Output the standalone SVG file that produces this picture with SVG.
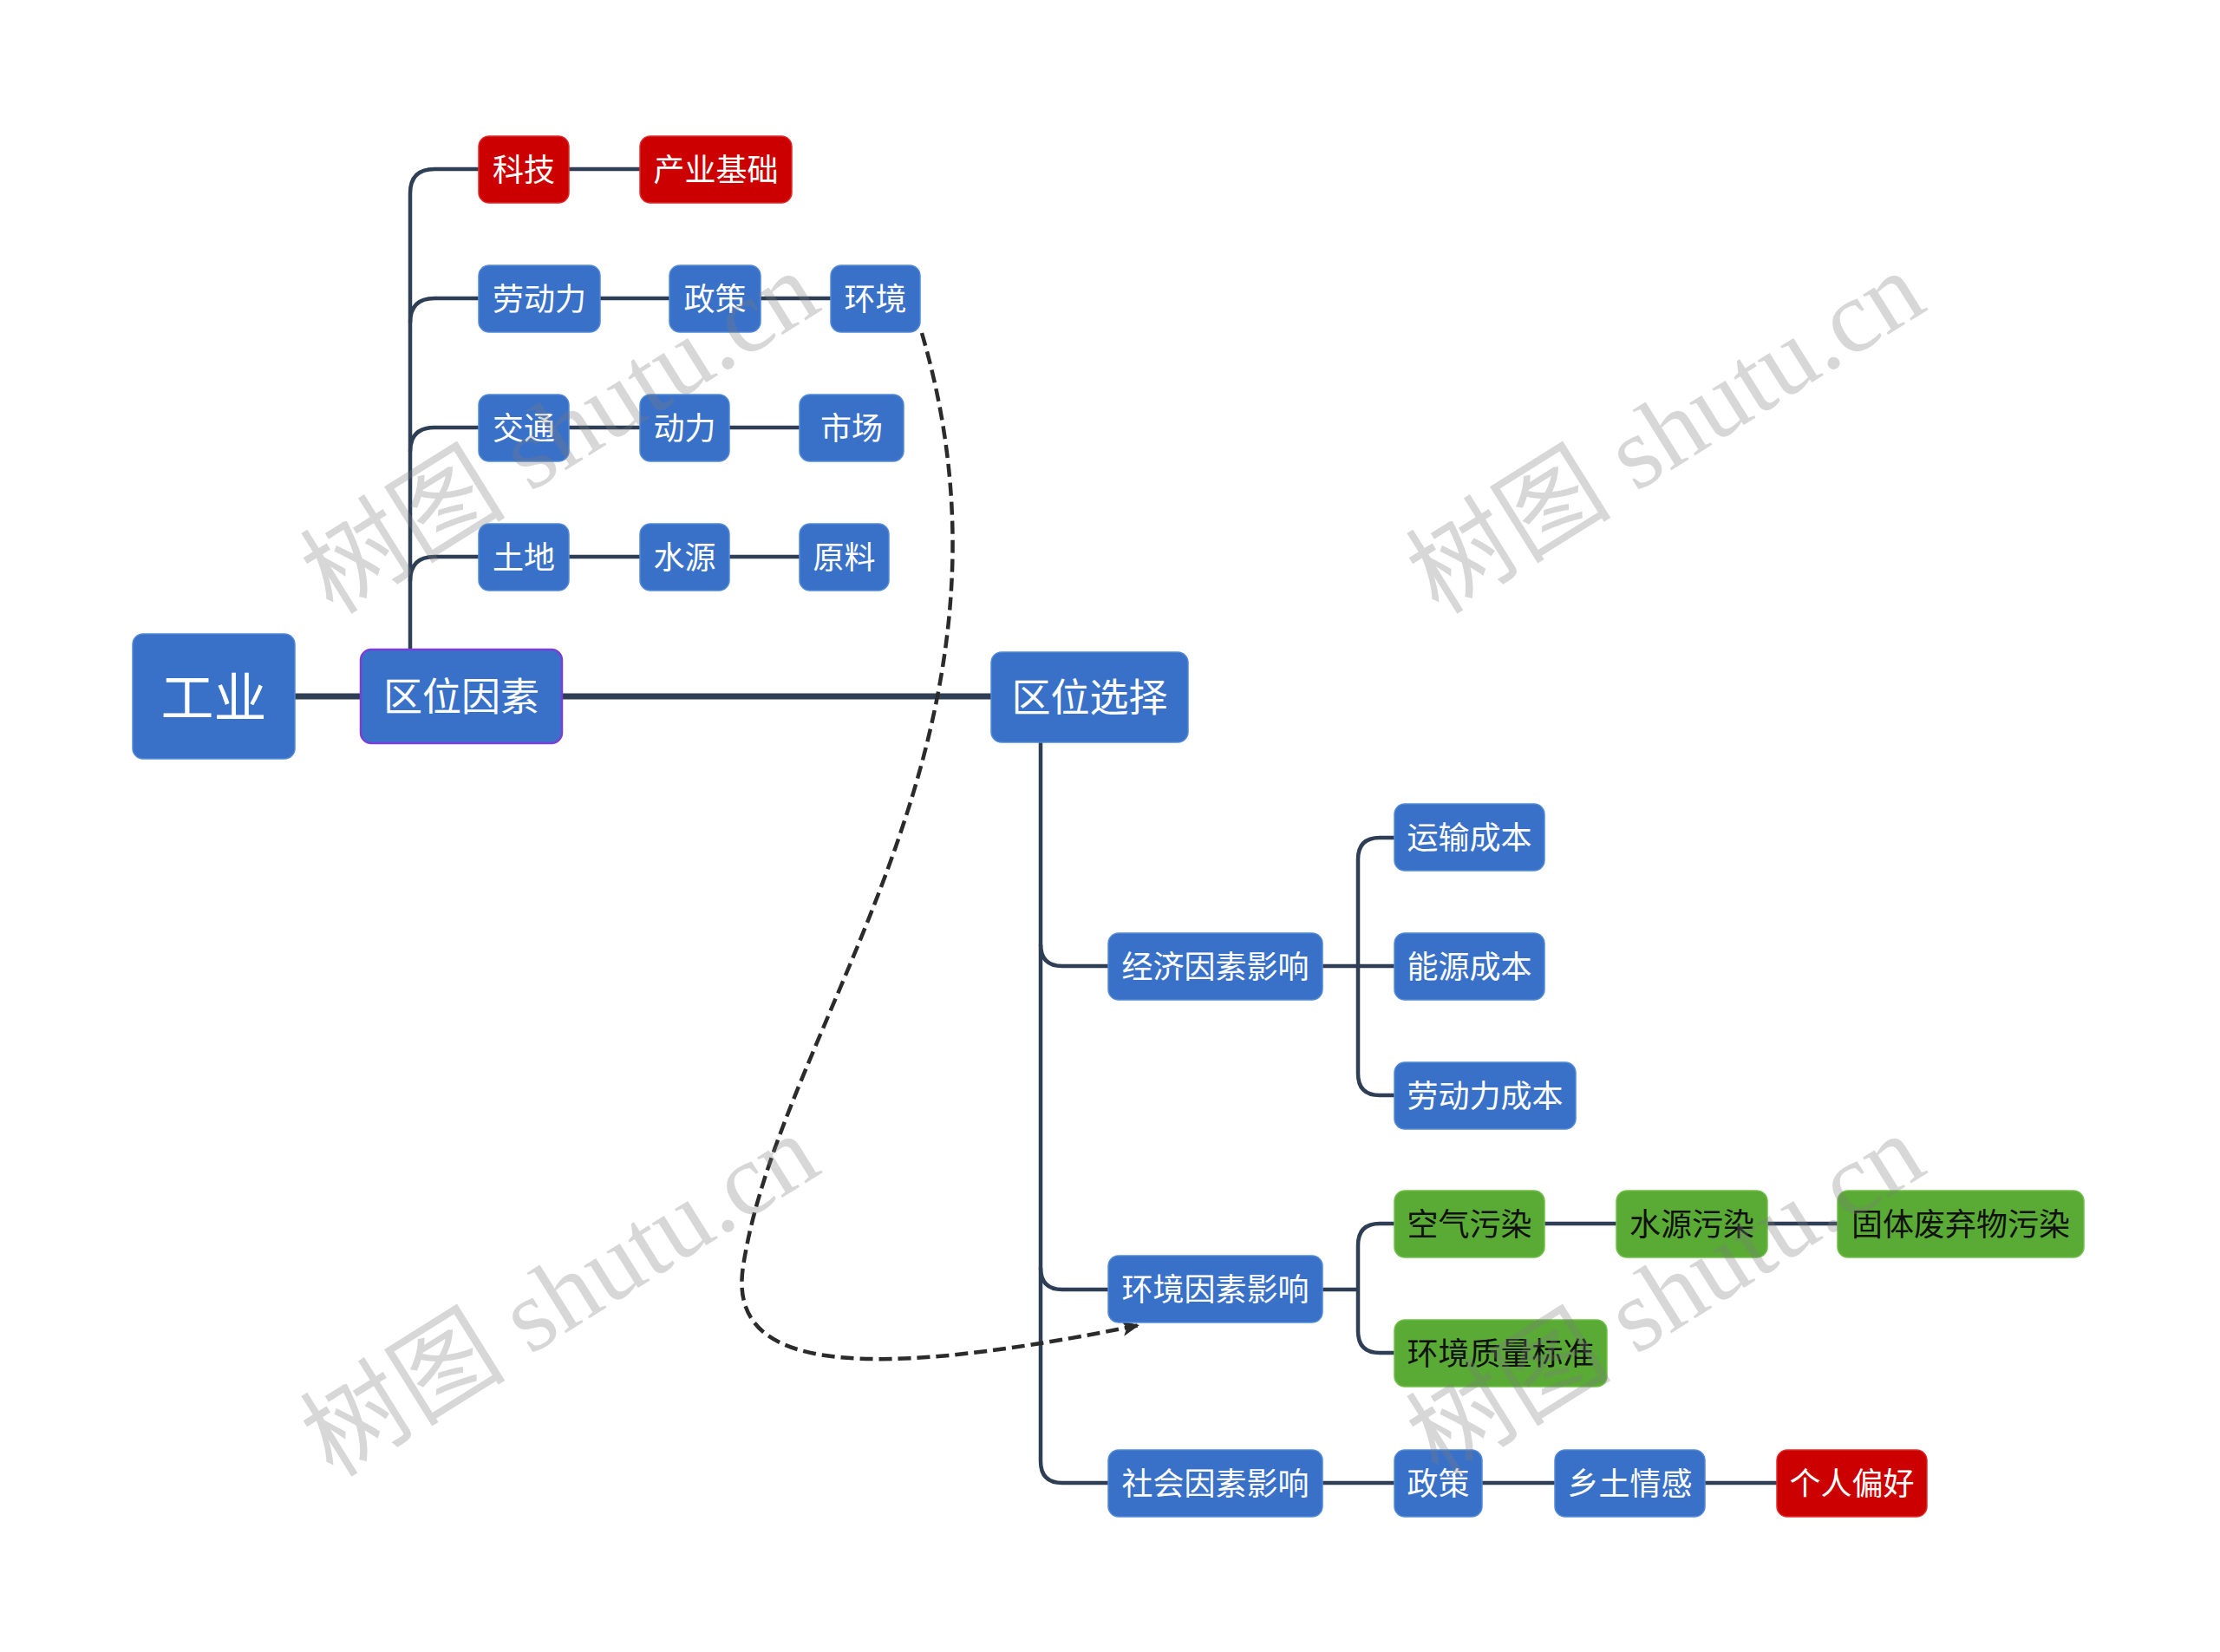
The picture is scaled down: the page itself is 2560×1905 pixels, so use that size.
<svg xmlns="http://www.w3.org/2000/svg" width="2560" height="1905" viewBox="0 0 2560 1905">
<defs>
<style>
.blue{fill:#3a71c8;stroke:#5289d6;stroke-width:1.5}
.red{fill:#cc0000;stroke:#de2a2a;stroke-width:1.5}
.green{fill:#5aab35;stroke:#70bf48;stroke-width:1.5}
.purple{fill:#3a71c8;stroke:#7a3fd6;stroke-width:2.5}
text{font-family:"Noto Sans CJK SC","Noto Sans",sans-serif;text-anchor:middle;dominant-baseline:central}
.t{font-size:36px;fill:#ffffff}
.tg{font-size:36px;fill:#111111}
.tm{font-size:45px;fill:#ffffff}
.tr{font-size:61px;fill:#ffffff}
.ln{fill:none;stroke:#2e3f55;stroke-width:4.5;stroke-linecap:butt}
.lm{fill:none;stroke:#2e3f55;stroke-width:7}
.dash{fill:none;stroke:#2b2b2b;stroke-width:4.5;stroke-dasharray:15 7}
.wm{font-family:"Liberation Serif","Noto Sans CJK SC",serif;font-size:119px;fill:#7a7a7a;fill-opacity:0.3;text-anchor:middle;dominant-baseline:auto}
</style>
<marker id="arr" markerUnits="userSpaceOnUse" markerWidth="24" markerHeight="24" refX="20" refY="10" orient="auto">
<path d="M0,1 L20,10 L0,19 L5,10 Z" fill="#2b2b2b"/>
</marker>
</defs>
<rect width="2560" height="1905" fill="#ffffff"/>

<g id="connectors">
<path class="lm" d="M340,803 H416"/>
<path class="lm" d="M648,803 H1143"/>
<path class="ln" d="M473,749 V223 Q473,195 501,195 H552"/>
<path class="ln" d="M473,372 Q473,344 501,344 H552"/>
<path class="ln" d="M473,521 Q473,493 501,493 H552"/>
<path class="ln" d="M473,670 Q473,642 501,642 H552"/>
<path class="ln" d="M656,195 H738"/>
<path class="ln" d="M692,344 H772"/>
<path class="ln" d="M877,344 H958"/>
<path class="ln" d="M656,493 H738"/>
<path class="ln" d="M841,493 H922"/>
<path class="ln" d="M656,642 H738"/>
<path class="ln" d="M841,642 H922"/>
<path class="ln" d="M1200,856 V1685 Q1200,1710 1225,1710 H1278"/>
<path class="ln" d="M1200,1089 Q1200,1114 1225,1114 H1278"/>
<path class="ln" d="M1200,1462 Q1200,1487 1225,1487 H1278"/>
<path class="ln" d="M1525,1114 H1608"/>
<path class="ln" d="M1608,966 H1591 Q1566,966 1566,991 V1238 Q1566,1263 1591,1263 H1608"/>
<path class="ln" d="M1525,1487 H1566"/>
<path class="ln" d="M1608,1411 H1591 Q1566,1411 1566,1436 V1535 Q1566,1560 1591,1560 H1608"/>
<path class="ln" d="M1781,1411 H1864"/>
<path class="ln" d="M2038,1411 H2119"/>
<path class="ln" d="M1525,1710 H1608"/>
<path class="ln" d="M1709,1710 H1793"/>
<path class="ln" d="M1966,1710 H2049"/>
<path class="dash" marker-end="url(#arr)" d="M1063,384 C1200,850 900,1180 857,1460 C840,1570 960,1600 1314,1528"/>
</g>

<g id="n-gongye"><rect class="blue" x="153" y="731" width="187" height="144" rx="12"/><text class="tr" x="246.5" y="800">工业</text></g>
<g id="n-quweiyinsu"><rect class="purple" x="416" y="749" width="232" height="108" rx="12"/><text class="tm" x="532" y="800">区位因素</text></g>
<g id="n-quweixuanze"><rect class="blue" x="1143" y="752" width="227" height="104" rx="12"/><text class="tm" x="1256.5" y="801">区位选择</text></g>

<g id="n-keji"><rect class="red" x="552" y="157" width="104" height="77" rx="12"/><text class="t" x="604" y="192.5">科技</text></g>
<g id="n-chanyejichu"><rect class="red" x="738" y="157" width="175" height="77" rx="12"/><text class="t" x="825.5" y="192.5">产业基础</text></g>
<g id="n-laodongli"><rect class="blue" x="552" y="306" width="140" height="77" rx="12"/><text class="t" x="622" y="341.5">劳动力</text></g>
<g id="n-zhengce1"><rect class="blue" x="772" y="306" width="105" height="77" rx="12"/><text class="t" x="824.5" y="341.5">政策</text></g>
<g id="n-huanjing"><rect class="blue" x="958" y="306" width="103" height="77" rx="12"/><text class="t" x="1009.5" y="341.5">环境</text></g>
<g id="n-jiaotong"><rect class="blue" x="552" y="455" width="104" height="77" rx="12"/><text class="t" x="604" y="490.5">交通</text></g>
<g id="n-dongli"><rect class="blue" x="738" y="455" width="103" height="77" rx="12"/><text class="t" x="789.5" y="490.5">动力</text></g>
<g id="n-shichang"><rect class="blue" x="922" y="455" width="120" height="77" rx="12"/><text class="t" x="982" y="490.5">市场</text></g>
<g id="n-tudi"><rect class="blue" x="552" y="604" width="104" height="77" rx="12"/><text class="t" x="604" y="639.5">土地</text></g>
<g id="n-shuiyuan"><rect class="blue" x="738" y="604" width="103" height="77" rx="12"/><text class="t" x="789.5" y="639.5">水源</text></g>
<g id="n-yuanliao"><rect class="blue" x="922" y="604" width="103" height="77" rx="12"/><text class="t" x="973.5" y="639.5">原料</text></g>

<g id="n-jingji"><rect class="blue" x="1278" y="1076" width="247" height="77" rx="12"/><text class="t" x="1401.5" y="1111.5">经济因素影响</text></g>
<g id="n-yunshu"><rect class="blue" x="1608" y="927" width="173" height="77" rx="12"/><text class="t" x="1694.5" y="962.5">运输成本</text></g>
<g id="n-nengyuan"><rect class="blue" x="1608" y="1076" width="173" height="77" rx="12"/><text class="t" x="1694.5" y="1111.5">能源成本</text></g>
<g id="n-laodonglichengben"><rect class="blue" x="1608" y="1225" width="209" height="77" rx="12"/><text class="t" x="1712.5" y="1260.5">劳动力成本</text></g>
<g id="n-huanjingyinsu"><rect class="blue" x="1278" y="1448" width="247" height="77" rx="12"/><text class="t" x="1401.5" y="1483.5">环境因素影响</text></g>
<g id="n-kongqi"><rect class="green" x="1608" y="1373" width="173" height="77" rx="12"/><text class="tg" x="1694.5" y="1408.5">空气污染</text></g>
<g id="n-shuiyuanwuran"><rect class="green" x="1864" y="1373" width="174" height="77" rx="12"/><text class="tg" x="1951" y="1408.5">水源污染</text></g>
<g id="n-guti"><rect class="green" x="2119" y="1373" width="284" height="77" rx="12"/><text class="tg" x="2261" y="1408.5">固体废弃物污染</text></g>
<g id="n-biaozhun"><rect class="green" x="1608" y="1522" width="245" height="77" rx="12"/><text class="tg" x="1730.5" y="1557.5">环境质量标准</text></g>
<g id="n-shehui"><rect class="blue" x="1278" y="1672" width="247" height="77" rx="12"/><text class="t" x="1401.5" y="1707.5">社会因素影响</text></g>
<g id="n-zhengce2"><rect class="blue" x="1608" y="1672" width="101" height="77" rx="12"/><text class="t" x="1658.5" y="1707.5">政策</text></g>
<g id="n-xiangtu"><rect class="blue" x="1793" y="1672" width="173" height="77" rx="12"/><text class="t" x="1879.5" y="1707.5">乡土情感</text></g>
<g id="n-gerenpianhao"><rect class="red" x="2049" y="1672" width="173" height="77" rx="12"/><text class="t" x="2135.5" y="1707.5">个人偏好</text></g>

<g id="watermarks">
<text class="wm" transform="translate(667,533) rotate(-32)">树图 shutu.cn</text>
<text class="wm" transform="translate(1942,533) rotate(-32)">树图 shutu.cn</text>
<text class="wm" transform="translate(667,1528) rotate(-32)">树图 shutu.cn</text>
<text class="wm" transform="translate(1942,1528) rotate(-32)">树图 shutu.cn</text>
</g>
</svg>
